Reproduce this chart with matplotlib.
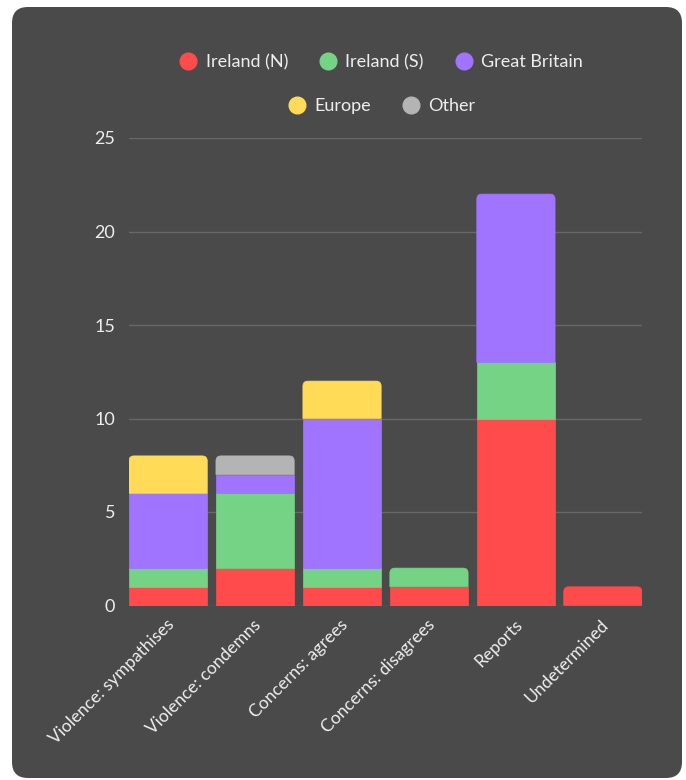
import matplotlib
matplotlib.use("Agg")
import matplotlib.pyplot as plt
from matplotlib.patches import FancyBboxPatch, PathPatch
from matplotlib.path import Path
from matplotlib.lines import Line2D
from matplotlib.transforms import ScaledTranslation

categories = [
    "Violence: sympathises",
    "Violence: condemns",
    "Concerns: agrees",
    "Concerns: disagrees",
    "Reports",
    "Undetermined",
]
series_names = ["Ireland (N)", "Ireland (S)", "Great Britain", "Europe", "Other"]
ireland_n = [1, 2, 1, 1, 10, 1]
ireland_s = [1, 4, 1, 1, 3, 0]
great_britain = [4, 1, 8, 0, 9, 0]
europe = [2, 0, 2, 0, 0, 0]
other = [0, 1, 0, 0, 0, 0]
series = [ireland_n, ireland_s, great_britain, europe, other]
colors = ["#ff4b4b", "#75d385", "#a074ff", "#ffdb58", "#b4b4b4"]
yticks = [0, 5, 10, 15, 20, 25]

BG = "#4a4a4a"
TEXT = "#eeeeee"
GRID = "#686868"

plt.rcParams["font.family"] = ["Lato", "DejaVu Sans"]

W, H = 686, 780
fig = plt.figure(figsize=(W / 100, H / 100), dpi=100)
fig.patch.set_facecolor("white")

# rounded dark panel
panel = FancyBboxPatch((0.12, 0.02), 6.70, 7.71,
                       boxstyle="round,pad=0,rounding_size=0.16",
                       transform=fig.dpi_scale_trans, facecolor=BG,
                       edgecolor="none", zorder=-10)
fig.patches.append(panel)

left, right, top, bottom = 129, 642, 138, 605.5
ax = fig.add_axes([left / W, (H - bottom) / H, (right - left) / W, (bottom - top) / H])
ax.set_facecolor("none")
ax.set_xlim(-0.45, len(categories) - 0.55)
ax.set_ylim(0, 25)
for s in ax.spines.values():
    s.set_visible(False)
ax.set_yticks(yticks)
ax.yaxis.grid(True, color=GRID, linewidth=1)
ax.set_axisbelow(True)
ax.tick_params(axis="y", length=0, pad=10, labelsize=13, labelcolor=TEXT)
ax.tick_params(axis="x", length=0, pad=8, labelsize=12.5, labelcolor=TEXT)

xs = list(range(len(categories)))
width = 0.9
px_x = (right - left) / (len(categories) - 0.1)
px_y = (bottom - top) / 25
rx = 5 / px_x
ry = 5 / px_y


def top_rounded(x0, y0, w, h):
    x1, y1 = x0 + w, y0 + h
    verts = [(x0, y0), (x0, y1 - ry), (x0, y1), (x0 + rx, y1),
             (x1 - rx, y1), (x1, y1), (x1, y1 - ry), (x1, y0), (x0, y0)]
    codes = [Path.MOVETO, Path.LINETO, Path.CURVE3, Path.CURVE3,
             Path.LINETO, Path.CURVE3, Path.CURVE3, Path.LINETO, Path.CLOSEPOLY]
    return Path(verts, codes)


bottoms = [0] * len(categories)
for vals, col in zip(series, colors):
    for i, v in enumerate(vals):
        if v == 0:
            continue
        total = sum(s[i] for s in series)
        if bottoms[i] + v == total:
            ax.add_patch(PathPatch(top_rounded(xs[i] - width / 2, bottoms[i], width, v),
                                   facecolor=col, edgecolor=col, linewidth=0.5, zorder=3))
        else:
            ax.bar(xs[i], v, width=width, bottom=bottoms[i], color=col,
                   edgecolor=col, linewidth=0.5, zorder=3)
        bottoms[i] += v

ax.set_xticks(xs)
ax.set_xticklabels(categories, rotation=45, ha="right", rotation_mode="anchor")
for lab in ax.get_xticklabels():
    lab.set_transform(lab.get_transform() + ScaledTranslation(-2 / 100, 0, fig.dpi_scale_trans))

handles = [Line2D([], [], marker="o", linestyle="none", markersize=12,
                  markerfacecolor=c, markeredgecolor=c) for c in colors]
leg_kw = dict(loc="center", frameon=False, fontsize=13, labelcolor=TEXT,
              handletextpad=0.45, columnspacing=1.72, handlelength=1.0)
fig.legend(handles[:3], series_names[:3], ncol=3,
           bbox_to_anchor=(381 / W, (H - 62) / H), **leg_kw)
fig.legend(handles[3:], series_names[3:], ncol=2,
           bbox_to_anchor=(382 / W, (H - 106) / H), **leg_kw)

fig.savefig("out.png", dpi=100, facecolor="white")
